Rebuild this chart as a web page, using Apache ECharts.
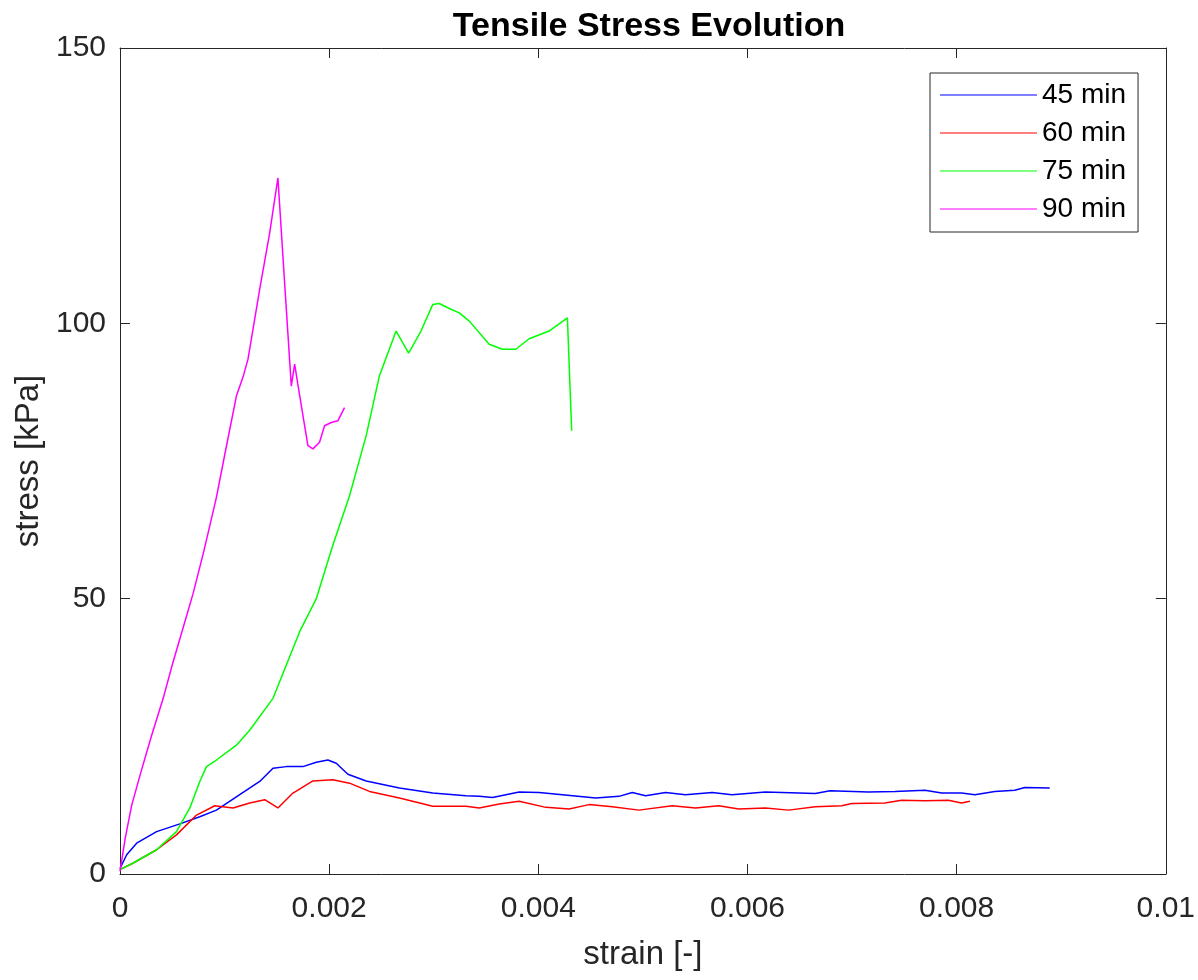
<!DOCTYPE html>
<html lang="en">
<head>
    <meta charset="UTF-8">
    <title>Tensile Stress Evolution</title>
    <script src="https://cdn.jsdelivr.net/npm/echarts@6/dist/echarts.min.js"></script>
    <style>
        html, body { margin: 0; padding: 0; background: #fff; }
    </style>
</head>
<body>
    <div id="main" style="width: 1198px;height:980px;"></div>
    <script type="text/javascript">
        // values
        const seriesNames = ['45 min', '60 min', '75 min', '90 min'];
        const xTicks = [0, 0.002, 0.004, 0.006, 0.008, 0.01];
        const yTicks = [0, 50, 100, 150];

        const strain45 = [0, 0.000064, 0.000159, 0.00035, 0.000573, 0.000763, 0.000922, 0.001145, 0.001336, 0.001463,
            0.00159, 0.001749, 0.001877, 0.001988, 0.002068, 0.002179, 0.002354, 0.002672, 0.00299, 0.003308,
            0.003435, 0.003562, 0.003817, 0.004008, 0.00423, 0.004549, 0.004771, 0.004898, 0.005026, 0.005217,
            0.005408, 0.005662, 0.005852, 0.006171, 0.006648, 0.00679, 0.007156, 0.007411, 0.007697, 0.007856,
            0.008047, 0.008174, 0.008365, 0.008556, 0.008652, 0.00889];
        const stress45 = [1.0, 3.5, 5.6, 7.7, 9.1, 10.4, 11.6, 14.4, 16.8, 19.2,
            19.5, 19.5, 20.3, 20.7, 20.1, 18.1, 16.9, 15.6, 14.7, 14.2,
            14.1, 13.9, 14.9, 14.8, 14.4, 13.8, 14.1, 14.8, 14.2, 14.8,
            14.4, 14.8, 14.4, 14.9, 14.6, 15.1, 14.9, 15.0, 15.2, 14.7,
            14.7, 14.4, 15.0, 15.2, 15.7, 15.6];

        const strain60 = [0, 0.000127, 0.00035, 0.00054, 0.000732, 0.000906, 0.001081, 0.00124, 0.001384, 0.00151,
            0.001654, 0.001845, 0.002035, 0.002195, 0.002385, 0.002672, 0.00299, 0.003308, 0.003435, 0.003626,
            0.003817, 0.004072, 0.004294, 0.004485, 0.004707, 0.004962, 0.00528, 0.005503, 0.005725, 0.005916,
            0.006171, 0.006393, 0.006648, 0.006902, 0.006997, 0.007315, 0.007474, 0.007697, 0.00792, 0.008047,
            0.008127];
        const stress60 = [0.8, 2.0, 4.4, 7.1, 10.7, 12.4, 12.0, 12.9, 13.5, 12.0,
            14.7, 16.9, 17.1, 16.5, 15.0, 13.8, 12.3, 12.3, 12.0, 12.7,
            13.2, 12.1, 11.8, 12.6, 12.2, 11.6, 12.4, 12.0, 12.4, 11.8,
            12.0, 11.6, 12.2, 12.4, 12.8, 12.9, 13.4, 13.3, 13.4, 12.9,
            13.2];

        const strain75 = [0, 0.000127, 0.00035, 0.00054, 0.000668, 0.000763, 0.000827, 0.000922, 0.001113, 0.00124,
            0.001463, 0.001718, 0.001877, 0.002035, 0.002195, 0.002354, 0.002481, 0.00264, 0.00276, 0.002878,
            0.00299, 0.003053, 0.003149, 0.003244, 0.00334, 0.00353, 0.003657, 0.003785, 0.003912, 0.004103,
            0.004278, 0.004319];
        const stress75 = [0.8, 2.0, 4.4, 7.7, 12.0, 16.8, 19.5, 20.7, 23.4, 26.1,
            31.9, 44.0, 50.0, 59.7, 68.7, 79.6, 90.5, 98.6, 94.6, 98.6,
            103.4, 103.6, 102.7, 101.9, 100.4, 96.2, 95.3, 95.3, 97.2, 98.6,
            101.0, 80.5];

        const strain90 = [0, 0.00005, 0.000112, 0.0002, 0.0003, 0.000413, 0.0005, 0.0006, 0.0007, 0.0008,
            0.000922, 0.001, 0.001113, 0.00118, 0.001224, 0.001336, 0.001431, 0.00151, 0.001574, 0.001638,
            0.00167, 0.0017, 0.00176, 0.001797, 0.001845, 0.001908, 0.001956, 0.00202, 0.002083, 0.002147];
        const stress90 = [0.5, 6.5, 12.5, 18.5, 25.0, 31.9, 38.0, 44.5, 51.0, 58.5,
            68.4, 76.0, 86.8, 90.5, 93.5, 106.2, 116.4, 126.4, 107.4, 88.6,
            92.6, 89.0, 82.0, 77.8, 77.2, 78.4, 81.4, 82.0, 82.3, 84.7];

        const lineColors = ['#0000ff', '#ff0000', '#00ff00', '#ff00ff'];

        const zip = (xs, ys) => xs.map((x, i) => [x, ys[i]]);
        const allData = [
            zip(strain45, stress45),
            zip(strain60, stress60),
            zip(strain75, stress75),
            zip(strain90, stress90)
        ];

        const axisColor = '#262626';
        const font = 'Liberation Sans, Arial, Helvetica, sans-serif';

        const xBase = {
            type: 'value',
            min: xTicks[0],
            max: xTicks[xTicks.length - 1],
            interval: xTicks[1] - xTicks[0],
            splitLine: { show: false },
            axisLine: { show: true, onZero: false, lineStyle: { color: axisColor, width: 1 } },
            axisTick: { show: true, inside: true, length: 10, lineStyle: { color: axisColor } }
        };
        const yBase = {
            type: 'value',
            min: yTicks[0],
            max: yTicks[yTicks.length - 1],
            interval: yTicks[1] - yTicks[0],
            splitLine: { show: false },
            axisLine: { show: true, onZero: false, lineStyle: { color: axisColor, width: 1 } },
            axisTick: { show: true, inside: true, length: 10, lineStyle: { color: axisColor } }
        };

        let options = {
            backgroundColor: '#ffffff',
            animation: false,
            title: {
                text: 'Tensile Stress Evolution',
                left: 644,
                top: 5,
                textAlign: 'center',
                textStyle: { fontFamily: font, fontWeight: 'bold', fontSize: 34, color: '#000' }
            },
            legend: {
                orient: 'vertical',
                left: 930,
                top: 73,
                data: seriesNames,
                icon: 'path://M0,0H100V1H0Z',
                itemWidth: 97,
                itemHeight: 2,
                itemGap: 10,
                padding: [8, 12, 9, 10],
                borderColor: axisColor,
                borderWidth: 1,
                backgroundColor: '#fff',
                textStyle: { fontFamily: font, fontSize: 28, color: '#000', lineHeight: 28 }
            },
            grid: { left: 120, right: 31, top: 48, bottom: 106, containLabel: false },
            xAxis: [
                Object.assign({}, xBase, {
                    position: 'bottom',
                    name: 'strain [-]',
                    nameLocation: 'middle',
                    nameGap: 64,
                    nameTextStyle: { fontFamily: font, fontSize: 33, color: axisColor },
                    axisLabel: {
                        margin: 20,
                        fontFamily: font, fontSize: 30, color: axisColor,
                        formatter: (v) => String(parseFloat(v.toFixed(4)))
                    }
                }),
                Object.assign({}, xBase, { position: 'top', axisLabel: { show: false } })
            ],
            yAxis: [
                Object.assign({}, yBase, {
                    position: 'left',
                    name: 'stress [kPa]',
                    nameLocation: 'middle',
                    nameGap: 70,
                    nameTextStyle: { fontFamily: font, fontSize: 33, color: axisColor },
                    axisLabel: { margin: 14, fontFamily: font, fontSize: 30, color: axisColor }
                }),
                Object.assign({}, yBase, { position: 'right', axisLabel: { show: false } })
            ],
            series: seriesNames.map((name, i) => ({
                name: name,
                type: 'line',
                xAxisIndex: 0,
                yAxisIndex: 0,
                data: allData[i],
                symbol: 'none',
                smooth: false,
                color: lineColors[i],
                lineStyle: { color: lineColors[i], width: 1.5 }
            }))
        };

        let myChart = echarts.init(document.getElementById('main'));
        myChart.setOption(options);
    </script>
</body>
</html>
